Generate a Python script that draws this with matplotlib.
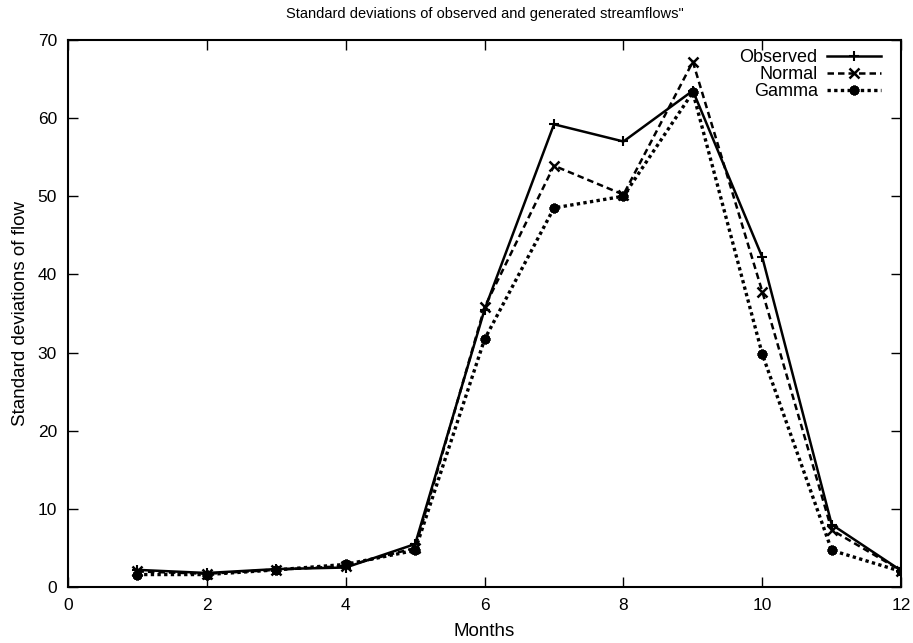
import matplotlib
matplotlib.use("Agg")
import matplotlib.pyplot as plt

plt.rcParams['font.family'] = ['Liberation Sans', 'DejaVu Sans']

months = [1, 2, 3, 4, 5, 6, 7, 8, 9, 10, 11, 12]
observed = [2.2, 1.8, 2.3, 2.5, 5.5, 35.5, 59.2, 57.0, 63.5, 42.2, 8.0, 2.1]
normal = [2.0, 1.7, 2.2, 2.7, 5.0, 35.8, 53.9, 50.2, 67.2, 37.8, 7.3, 2.1]
gamma = [1.6, 1.6, 2.2, 2.9, 4.7, 31.7, 48.5, 50.0, 63.3, 29.8, 4.7, 2.0]
xticks = [0, 2, 4, 6, 8, 10, 12]
yticks = [0, 10, 20, 30, 40, 50, 60, 70]

fig = plt.figure(figsize=(9.13, 6.43), dpi=100)
ax = fig.add_axes([0.0745, 0.087, 0.9125, 0.851])

ax.plot(months, observed, color='black', linestyle='-', linewidth=1.8,
        marker='+', markersize=7, markeredgewidth=1.5, label='Observed')
ax.plot(months, normal, color='black', linestyle=(0, (2.6, 1.6)), linewidth=1.8,
        marker='x', markersize=7, markeredgewidth=1.8, label='Normal')
ax.plot(months, gamma, color='black', linestyle=(0, (1.0, 1.0)), linewidth=2.4,
        marker=(8, 2, 0), markersize=7, markeredgewidth=2.2, label='Gamma')

ax.set_xlim(0, 12)
ax.set_ylim(0, 70)
ax.set_xticks(xticks)
ax.set_yticks(yticks)
ax.tick_params(direction='in', top=True, right=True, length=7, width=1,
               labelsize=12.5, pad=8)
for s in ax.spines.values():
    s.set_linewidth(1.5)

ax.set_xlabel('Months', fontsize=13.5, labelpad=7)
ax.set_ylabel('Standard deviations of flow', fontsize=13.5, labelpad=6)
ax.set_title('Standard deviations of observed and generated streamflows"',
             fontsize=10.5, pad=16)

leg = ax.legend(loc='upper right', frameon=False, markerfirst=False,
                fontsize=13, handlelength=3.0, handletextpad=0.5,
                labelspacing=0.0, borderaxespad=0.0, borderpad=0.2,
                bbox_to_anchor=(0.98, 0.99))
for t in leg.get_texts():
    t.set_ha('right')

fig.savefig('out.png', dpi=100)
